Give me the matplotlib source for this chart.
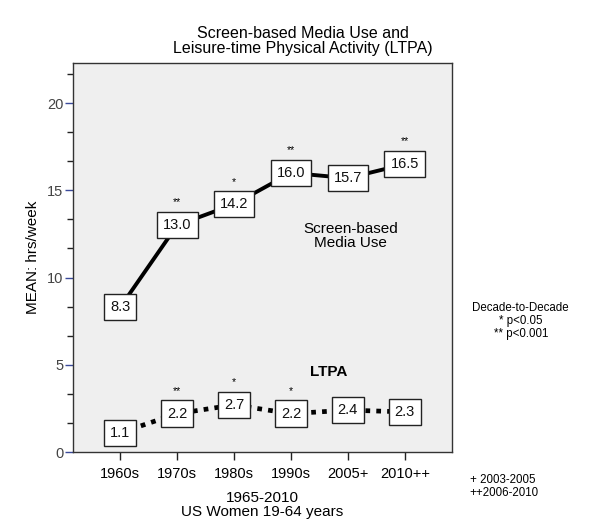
import matplotlib
matplotlib.use("Agg")
import matplotlib.pyplot as plt
import numpy as np

plt.rcParams['font.family'] = ['Liberation Sans', 'DejaVu Sans']

categories = ["1960s", "1970s", "1980s", "1990s", "2005+", "2010++"]
screen = [8.3, 13.0, 14.2, 16.0, 15.7, 16.5]
ltpa = [1.1, 2.2, 2.7, 2.2, 2.4, 2.3]
screen_sig = ["", "**", "*", "**", "", "**"]
ltpa_sig = ["", "**", "*", "*", "", ""]

fig = plt.figure(figsize=(6.0, 5.26), dpi=100)
ax = fig.add_axes([73/600, 74/526, 379/600, 389/526])
ax.set_facecolor('#efefef')

x = np.arange(len(categories))
ax.plot(x, screen, color='black', lw=2.8, solid_capstyle='round', zorder=2)
ax.plot(x, ltpa, color='black', lw=3.4, linestyle=(0, (1.0, 1.3)),
        dash_capstyle='butt', zorder=2)

box = dict(boxstyle='square,pad=0.42', facecolor='white', edgecolor='#222222', lw=1.0)
for xi, v, s in zip(x, screen, screen_sig):
    ax.text(xi, v, f"{v:.1f}", ha='center', va='center', fontsize=10.5,
            bbox=box, zorder=3, color='#111111')
    if s:
        ax.text(xi, v + 1.3, s, ha='center', va='center', fontsize=7.5, zorder=3)
for xi, v, s in zip(x, ltpa, ltpa_sig):
    ax.text(xi, v, f"{v:.1f}", ha='center', va='center', fontsize=10.5,
            bbox=box, zorder=3, color='#111111')
    if s:
        ax.text(xi, v + 1.3, s, ha='center', va='center', fontsize=7.5, zorder=3)

ax.text(4.05, 12.4, "Screen-based\nMedia Use", ha='center', va='center',
        fontsize=11, linespacing=1.0)
ax.text(3.67, 4.6, "LTPA", ha='center', va='center', fontsize=11,
        fontweight='bold')

ax.set_xlim(-0.83, 5.83)
ax.set_ylim(0, 22.3)
ax.set_xticks(x)
ax.set_xticklabels(categories, fontsize=10.5)
ax.set_yticks([0, 5, 10, 15, 20])
ax.set_yticklabels(["0", "5", "10", "15", "20"], fontsize=10.5, color='#444444')
ax.set_yticks(np.arange(0, 22, 5/3), minor=True)
ax.tick_params(axis='y', which='major', length=6, width=1.0, color='#3a4a9a', pad=1)
ax.tick_params(axis='y', which='minor', length=4, width=1.0, color='#222222')
ax.tick_params(axis='x', which='major', length=6, width=1.0, color='#222222', pad=5)
for sp in ax.spines.values():
    sp.set_color('#333333')
    sp.set_linewidth(1.0)

ax.set_ylabel("MEAN: hrs/week", fontsize=11, labelpad=5)
ax.set_xlabel("1965-2010\nUS Women 19-64 years", fontsize=11, labelpad=7,
              linespacing=1.0)

fig.text(0.505, 0.893, "Screen-based Media Use and\nLeisure-time Physical Activity (LTPA)",
         ha='center', va='bottom', fontsize=11.5, linespacing=1.0)

fig.text(0.868, 0.389, "Decade-to-Decade\n* p<0.05\n** p<0.001", ha='center', va='center',
         fontsize=8.3, linespacing=1.1)
fig.text(0.783, 0.075, "+ 2003-2005\n++2006-2010", ha='left', va='center',
         fontsize=8.3, linespacing=1.15)

fig.savefig("out.png", dpi=100, facecolor='white')
